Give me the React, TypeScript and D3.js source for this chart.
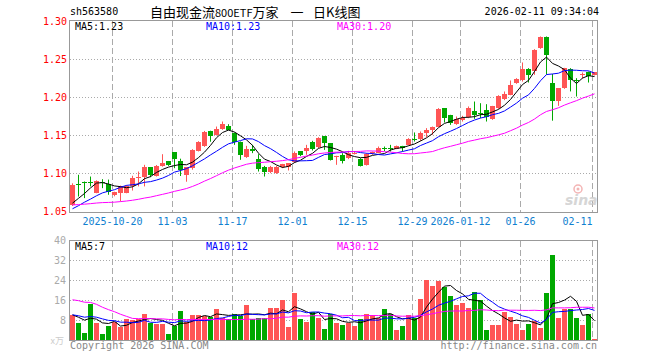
import React from 'react';
import * as d3 from 'd3';

const dates = [
  '2025-10-09','2025-10-10','2025-10-13','2025-10-14','2025-10-15','2025-10-16','2025-10-17',
  '2025-10-20','2025-10-21','2025-10-22','2025-10-23','2025-10-24','2025-10-27','2025-10-28','2025-10-29','2025-10-30','2025-10-31',
  '2025-11-03','2025-11-04','2025-11-05','2025-11-06','2025-11-07','2025-11-10','2025-11-11','2025-11-12','2025-11-13','2025-11-14',
  '2025-11-17','2025-11-18','2025-11-19','2025-11-20','2025-11-21','2025-11-24','2025-11-25','2025-11-26','2025-11-27','2025-11-28',
  '2025-12-01','2025-12-02','2025-12-03','2025-12-04','2025-12-05','2025-12-08','2025-12-09','2025-12-10','2025-12-11','2025-12-12',
  '2025-12-15','2025-12-16','2025-12-17','2025-12-18','2025-12-19','2025-12-22','2025-12-23','2025-12-24','2025-12-25','2025-12-26',
  '2025-12-29','2025-12-30','2025-12-31',
  '2026-01-05','2026-01-06','2026-01-07','2026-01-08','2026-01-09','2026-01-12','2026-01-13','2026-01-14','2026-01-15','2026-01-16',
  '2026-01-19','2026-01-20','2026-01-21','2026-01-22','2026-01-23','2026-01-26','2026-01-27','2026-01-28','2026-01-29','2026-01-30',
  '2026-02-02','2026-02-03','2026-02-04','2026-02-05','2026-02-06','2026-02-09','2026-02-10','2026-02-11',
];

const opens = [
  1.0586,1.0865,1.0887,1.0890,1.0745,1.0890,1.0860,1.0711,1.0750,1.0750,
  1.0830,1.0940,1.0960,1.1083,1.0970,1.1105,1.1158,1.1280,1.1158,1.0982,
  1.1068,1.1300,1.1362,1.1563,1.1509,1.1582,1.1627,1.1530,1.1421,1.1215,
  1.1320,1.1193,1.1092,1.1018,1.1004,1.1079,1.1092,1.1145,1.1290,1.1290,
  1.1421,1.1346,1.1487,1.1399,1.1228,1.1246,1.1202,1.1268,1.1189,1.1114,
  1.1268,1.1276,1.1342,1.1338,1.1325,1.1364,1.1377,1.1456,1.1452,1.1530,
  1.1566,1.1618,1.1860,1.1772,1.1649,1.1706,1.1741,1.1816,1.1794,1.1838,
  1.1715,1.1860,1.1978,1.2035,1.2197,1.2232,1.2373,1.2345,1.2651,1.2796,
  1.2190,1.1950,1.2125,1.2379,1.2232,1.2294,1.2342,1.2298,
];
const highs = [
  1.0871,1.0983,1.0895,1.0960,1.0910,1.0925,1.0920,1.0760,1.0840,1.0845,
  1.0970,1.1026,1.1114,1.1085,1.1112,1.1254,1.1165,1.1283,1.1195,1.1085,
  1.1320,1.1425,1.1560,1.1563,1.1618,1.1684,1.1649,1.1540,1.1421,1.1364,
  1.1377,1.1254,1.1100,1.1100,1.1100,1.1127,1.1136,1.1290,1.1290,1.1377,
  1.1430,1.1478,1.1487,1.1399,1.1233,1.1268,1.1298,1.1290,1.1202,1.1268,
  1.1289,1.1355,1.1355,1.1377,1.1368,1.1364,1.1465,1.1540,1.1553,1.1597,
  1.1618,1.1860,1.1860,1.1772,1.1750,1.1759,1.1882,1.1947,1.1925,1.1912,
  1.1890,1.2030,1.2079,1.2224,1.2254,1.2461,1.2386,1.2636,1.2803,1.2803,
  1.2310,1.2125,1.2390,1.2386,1.2254,1.2329,1.2342,1.2329,
];
const lows = [
  1.0572,1.0697,1.0676,1.0830,1.0740,1.0807,1.0720,1.0700,1.0632,1.0740,
  1.0776,1.0830,1.0830,1.0952,1.0960,1.1090,1.1100,1.1070,1.0967,1.0892,
  1.1050,1.1290,1.1350,1.1418,1.1500,1.1575,1.1570,1.1377,1.1180,1.1205,
  1.1268,1.1026,1.0960,1.1005,1.0995,1.1070,1.1040,1.1140,1.1228,1.1246,
  1.1303,1.1333,1.1311,1.1171,1.1114,1.1132,1.1189,1.1250,1.1092,1.1105,
  1.1246,1.1268,1.1294,1.1289,1.1320,1.1289,1.1368,1.1421,1.1430,1.1478,
  1.1509,1.1610,1.1671,1.1640,1.1640,1.1684,1.1728,1.1719,1.1728,1.1684,
  1.1706,1.1850,1.1965,1.2030,1.2180,1.2210,1.2197,1.2298,1.2640,1.2300,
  1.1695,1.1890,1.2114,1.2080,1.2013,1.2250,1.2197,1.2290,
];
const closes = [
  1.0851,1.0855,1.0880,1.0885,1.0900,1.0880,1.0763,1.0754,1.0838,1.0830,
  1.0939,1.0960,1.1092,1.0974,1.1105,1.1136,1.1114,1.1193,1.1048,1.1083,
  1.1309,1.1414,1.1550,1.1493,1.1588,1.1651,1.1575,1.1421,1.1246,1.1320,
  1.1290,1.1061,1.1026,1.1092,1.1092,1.1123,1.1136,1.1276,1.1246,1.1342,
  1.1325,1.1465,1.1399,1.1180,1.1233,1.1158,1.1268,1.1276,1.1105,1.1254,
  1.1289,1.1333,1.1333,1.1333,1.1368,1.1333,1.1456,1.1452,1.1530,1.1575,
  1.1610,1.1851,1.1728,1.1662,1.1719,1.1728,1.1860,1.1772,1.1790,1.1750,
  1.1882,1.2022,1.2048,1.2167,1.2241,1.2373,1.2298,1.2629,1.2796,1.2563,
  1.1958,1.2125,1.2388,1.2234,1.2219,1.2311,1.2285,1.2329,
];
const volumes = [
  10.3,7.2,3.2,14.8,7.2,2.8,6.0,7.6,5.3,8.8,
  8.4,8.8,10.8,7.2,6.8,6.8,2.8,5.9,12.0,7.3,
  10.4,10.4,9.9,9.6,12.8,9.1,8.8,10.7,10.0,14.4,
  8.8,9.2,9.1,13.2,13.2,16.4,5.6,19.2,8.8,7.6,
  11.6,9.2,4.8,10.7,7.2,6.4,7.2,6.0,8.8,10.8,
  10.4,9.2,12.8,10.8,4.4,6.0,10.4,9.2,16.8,24.4,
  22.0,24.0,21.6,18.0,14.4,15.2,13.2,19.6,16.4,4.4,
  6.4,6.4,11.6,9.6,6.8,4.4,6.8,8.0,5.2,19.2,
  34.4,9.2,12.8,12.8,9.2,6.4,10.8,0.4,
];
// sessions before the first visible candle (feed the moving averages only)
const prevCloses = [
  1.070,1.072,1.068,1.066,1.071,1.069,1.065,1.062,1.060,1.063,
  1.058,1.061,1.059,1.056,1.060,1.057,1.055,1.052,1.050,1.048,
  1.045,1.042,1.048,1.046,1.050,1.054,1.056,1.052,1.058,
];
const prevVolumes = [
  18,22,17,30,38,35,32,36,34,33,
  12,9,8,10,7,9,11,8,9,8,
  11,9,12,10,9.5,12,9,11,9,
];

const priceTicks = [1.05, 1.10, 1.15, 1.20, 1.25, 1.30];
const volTicks = [8, 16, 24, 32, 40];
const tickDates = ['2025-10-20','2025-11-03','2025-11-17','2025-12-01','2025-12-15','2025-12-29','2026-01-12','2026-01-26','2026-02-11'];
const tickLabels = ['2025-10-20','11-03','11-17','12-01','12-15','12-29','2026-01-12','01-26','02-11'];
const maPeriods = [5, 10, 30];
const maColors = ['#000000', '#0000ff', '#ff00ff'];
const priceLegend = ['MA5:1.23', 'MA10:1.23', 'MA30:1.20'];
const volLegend = ['MA5:7', 'MA10:12', 'MA30:12'];
const titleParts = ['自由现金流', '800ETF', '万家', '一', '日K线图'];

const MONO = "'DejaVu Sans Mono', monospace";
const CJK = "'Noto Sans CJK SC', sans-serif";
const UP = '#ff5555';
const DOWN = '#00a800';

export default function App() {
  const n = dates.length;
  const x = d3.scaleBand<number>().domain(d3.range(n)).range([70, 597]).paddingInner(1 / 6).paddingOuter(0).align(0);
  const bw = x.bandwidth();
  const cx = (i: number) => (x(i) as number) + bw / 2;
  const yP = d3.scaleLinear().domain([1.05, 1.30]).range([211.5, 21.5]);
  const yV = d3.scaleLinear().domain([0, 40]).range([340.5, 240.5]);

  const allC = prevCloses.concat(closes);
  const allV = prevVolumes.concat(volumes);
  const off = prevCloses.length;
  const offV = prevVolumes.length;
  const ma = (arr: number[], o: number, p: number) =>
    d3.range(n).map((i) => d3.mean(arr.slice(i + o - p + 1, i + o + 1)) as number);

  const lineP = d3.line<number>().x((_, i) => cx(i)).y((d) => yP(d));
  const lineV = d3.line<number>().x((_, i) => cx(i)).y((d) => yV(d));

  const gridX = tickDates.map((d) => dates.indexOf(d));

  return (
    <svg width={660} height={360} style={{ position: 'absolute', left: 0, top: 0, background: '#fff' }}>
      {/* header */}
      <text x={70} y={15} fontFamily={MONO} fontSize={10} fill="#000">sh563580</text>
      <text y={17} fontFamily={CJK} fontSize={13} fill="#000">
        <tspan x={150}>{titleParts[0]}</tspan>
        <tspan fontSize={11}>{titleParts[1]}</tspan>
        <tspan>{titleParts[2]}</tspan>
        <tspan x={290.5}>{titleParts[3]}</tspan>
        <tspan x={313}>{titleParts[4]}</tspan>
      </text>
      <text x={599} y={15} fontFamily={MONO} fontSize={10} fill="#000" textAnchor="end">2026-02-11 09:34:04</text>

      {/* grids */}
      {priceTicks.filter((t) => t > 1.05 && t < 1.30).map((t) => (
        <line key={'hp' + t} x1={70} x2={597} y1={yP(t)} y2={yP(t)} stroke="#aaa" strokeDasharray="1,2" />
      ))}
      {volTicks.filter((t) => t < 40).map((t) => (
        <line key={'hv' + t} x1={70} x2={597} y1={yV(t)} y2={yV(t)} stroke="#aaa" strokeDasharray="1,2" />
      ))}
      {gridX.map((i) => (
        <g key={'vx' + i}>
          <line x1={(x(i) as number) + 0.5} x2={(x(i) as number) + 0.5} y1={21} y2={212} stroke="#aaa" strokeDasharray="6,3" />
          <line x1={(x(i) as number) + 0.5} x2={(x(i) as number) + 0.5} y1={241} y2={340} stroke="#aaa" strokeDasharray="6,3" />
        </g>
      ))}

      {/* sina watermark */}
      <g opacity={0.85}>
        <circle cx={578} cy={189} r={4} fill="none" stroke="#f2a8a8" strokeWidth={1.5} />
        <circle cx={578} cy={189} r={1.5} fill="#f2a8a8" />
        <text x={565} y={205} fontFamily="'DejaVu Sans', sans-serif" fontStyle="italic" fontWeight="bold" fontSize={14} fill="#cfcfcf">sina</text>
      </g>

      {/* candles */}
      {d3.range(n).map((i) => {
        const o = opens[i], c = closes[i];
        const col = c >= o ? UP : DOWN;
        const top = Math.round(yP(Math.max(o, c)));
        const bot = Math.round(yP(Math.min(o, c)));
        return (
          <g key={'c' + i}>
            <line x1={cx(i)} x2={cx(i)} y1={yP(highs[i])} y2={yP(lows[i])} stroke={col} />
            <rect x={x(i)} y={top} width={bw} height={Math.max(1, bot - top)} fill={col} />
          </g>
        );
      })}

      {/* price MAs */}
      {maPeriods.map((p, k) => (
        <path key={'mp' + p} d={lineP(ma(allC, off, p)) || ''} fill="none" stroke={maColors[k]} strokeWidth={1} />
      ))}

      {/* volume bars */}
      {d3.range(n).map((i) => {
        const col = closes[i] >= opens[i] ? UP : DOWN;
        const top = Math.round(yV(volumes[i]));
        return <rect key={'v' + i} x={x(i)} y={top} width={bw} height={Math.max(1, 340 - top)} fill={col} />;
      })}
      {maPeriods.map((p, k) => (
        <path key={'mv' + p} d={lineV(ma(allV, offV, p)) || ''} fill="none" stroke={maColors[k]} strokeWidth={1} />
      ))}

      {/* frames */}
      <rect x={69.5} y={20.5} width={528} height={192} fill="none" stroke="#999" />
      <rect x={69.5} y={240.5} width={528} height={100} fill="none" stroke="#999" />

      {/* legends */}
      {priceLegend.map((t, k) => (
        <text key={'pl' + k} x={75 + k * 131} y={30} fontFamily={MONO} fontSize={10} fill={maColors[k]}>{t}</text>
      ))}
      {volLegend.map((t, k) => (
        <text key={'vl' + k} x={75 + k * 131} y={250} fontFamily={MONO} fontSize={10} fill={maColors[k]}>{t}</text>
      ))}

      {/* y axes */}
      {priceTicks.map((t) => (
        <text key={'pt' + t} x={67} y={yP(t) + 3.5} fontFamily={MONO} fontSize={10} fill="#ff0000" textAnchor="end">{t.toFixed(2)}</text>
      ))}
      {volTicks.map((t) => (
        <text key={'vt' + t} x={66} y={yV(t) + 3.5} fontFamily={MONO} fontSize={10} fill="#aaa" textAnchor="end">{String(t)}</text>
      ))}
      <text x={64} y={344} fontFamily={CJK} fontSize={9} fill="#ccc" textAnchor="end">x万</text>

      {/* x axis labels */}
      {gridX.map((i, k) => {
        const lx = cx(i) - 2;
        const half = tickLabels[k].length * 3;
        const end = lx + half > 597;
        return (
          <text key={'xl' + k} x={lx} y={225} fontFamily={MONO} fontSize={10} fill="#1080d0" textAnchor={end ? 'end' : 'middle'}>
            {tickLabels[k]}
          </text>
        );
      })}

      {/* footer */}
      <text x={70} y={349} fontFamily={MONO} fontSize={10} fill="#888">Copyright 2026 SINA.COM</text>
      <text x={597} y={349} fontFamily={MONO} fontSize={10} fill="#888" textAnchor="end">http://finance.sina.com.cn</text>
    </svg>
  );
}
